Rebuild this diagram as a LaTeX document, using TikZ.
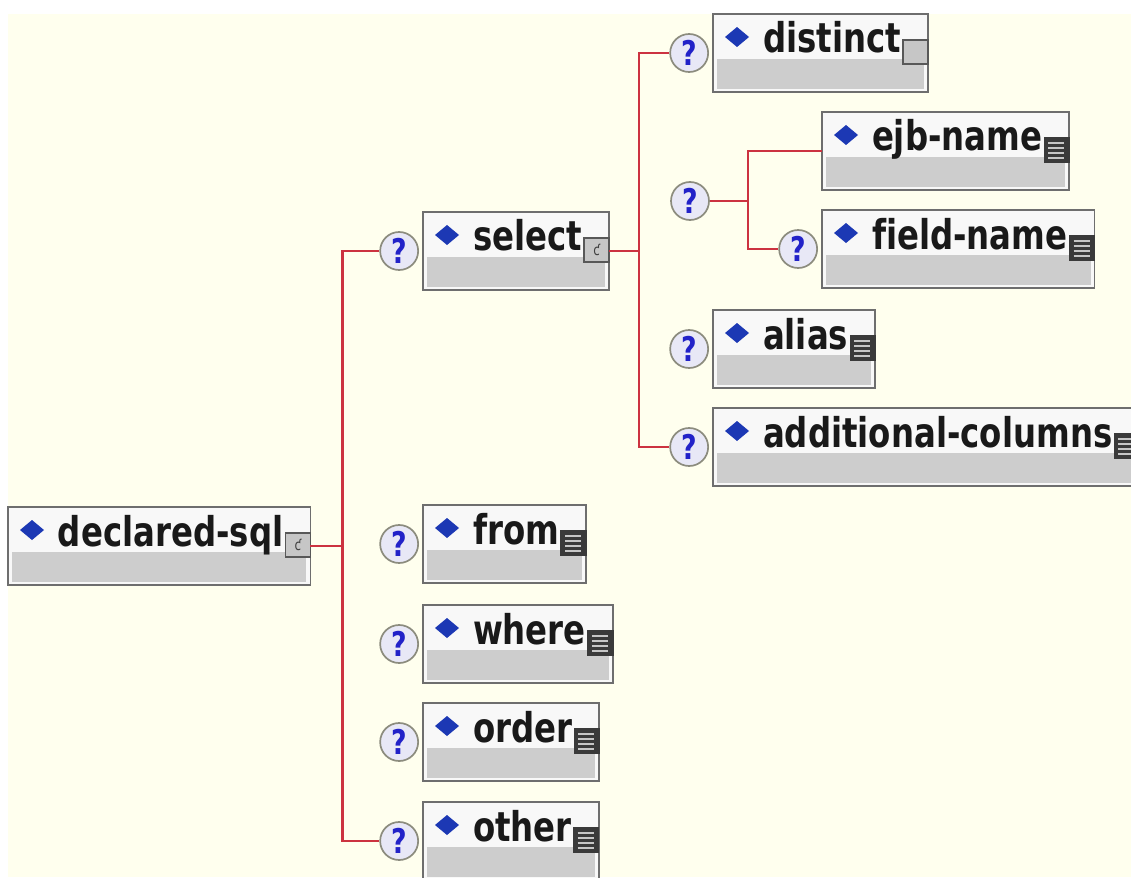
\documentclass[tikz,border=0pt]{standalone}
\usepackage{fontspec}
\newfontfamily\elemfont[FakeStretch=0.79, Ligatures=NoCommon]{DejaVu Sans}
\usetikzlibrary{positioning}
\definecolor{bgcream}{HTML}{FFFFEE}
\definecolor{boxframe}{HTML}{6E6E6E}
\definecolor{boxwhite}{HTML}{F8F8F8}
\definecolor{cellgray}{HTML}{CDCDCD}
\definecolor{diablue}{HTML}{1C38B4}
\definecolor{linkred}{HTML}{CC3340}
\definecolor{qblue}{HTML}{2222C8}
\definecolor{qfill}{HTML}{E8E8F6}
\definecolor{qframe}{HTML}{8C8C7E}
\definecolor{icondark}{HTML}{3A3A3A}
\definecolor{iconlight}{HTML}{C6C6C6}

\begin{document}
\begin{tikzpicture}[
        x=1pt, y=-1pt,
        node distance = 4pt and 4pt,
        elem/.style = {draw=boxframe, line width=1.8pt, fill=boxwhite, anchor=north west,
            outer sep=0pt, inner xsep=0pt, inner ysep=0pt, text height=39pt, text depth=39pt,
            font=\elemfont\bfseries\fontsize{41pt}{41pt}\selectfont, text=black!90,
            execute at begin node=\hspace*{50pt}, execute at end node=\hspace*{27pt},
            path picture={
                \fill[cellgray] ([shift={(4pt,3pt)}]path picture bounding box.south west)
                    rectangle ([shift={(-4pt,33pt)}]path picture bounding box.south east);
                \fill[diablue] ([shift={(12pt,-23pt)}]path picture bounding box.north west)
                    -- ++(12pt,10pt) -- ++(12pt,-10pt) -- ++(-12pt,-10pt) -- cycle;
            }},
        icon/.style = {anchor=north east, outer sep=0pt, inner sep=0pt,
            minimum width=25pt, minimum height=24pt, line width=1.3pt},
        cplx/.style  = {icon, draw=boxframe!80!black, fill=iconlight,
            font=\elemfont\fontsize{15pt}{15pt}\selectfont, text=black!75},
        empty/.style = {icon, draw=boxframe!80!black, fill=iconlight},
        simple/.style = {icon, draw=icondark, fill=icondark,
            path picture={
                \foreach \yy in {5,10,15,20}
                    \draw[iconlight, line width=1.4pt] ([shift={(4pt,-\yy pt)}]path picture bounding box.north west) -- ++(16pt,0pt);
            }},
        opt/.style  = {circle, draw=qframe, line width=1.7pt, fill=qfill, minimum size=38pt, inner sep=0pt,
            font=\elemfont\bfseries\fontsize{34pt}{34pt}\selectfont, text=qblue},
        link/.style = {draw=linkred, line width=2.2pt},
    ]
        \useasboundingbox (0,0) rectangle (1131,877);
        \clip (0,0) rectangle (1131,877);
        \fill[white] (0,0) rectangle (1131,877);
        \fill[bgcream] (8,14) rectangle (1131,877);

        % root
        \node[elem] (decl) at (8,507) {declared-sql};
        \node[cplx] (decl-i) at ([yshift=-26pt]decl.north east) {ƈ};

        % first level
        \node[elem] (sel) at (423,212) {select};
        \node[cplx] (sel-i) at ([yshift=-26pt]sel.north east) {ƈ};
        \node[opt, left=of sel] (qsel) {?};
        \node[elem] (from) at (423,505) {from};
        \node[simple] (from-i) at ([yshift=-26pt]from.north east) {};
        \node[opt, left=of from] (qfrom) {?};
        \node[elem] (where) at (423,605) {where};
        \node[simple] (where-i) at ([yshift=-26pt]where.north east) {};
        \node[opt, left=of where] (qwhere) {?};
        \node[elem] (order) at (423,703) {order};
        \node[simple] (order-i) at ([yshift=-26pt]order.north east) {};
        \node[opt, left=of order] (qorder) {?};
        \node[elem] (other) at (423,802) {other};
        \node[simple] (other-i) at ([yshift=-26pt]other.north east) {};
        \node[opt, left=of other] (qother) {?};

        % second level
        \node[elem] (dist) at (713,14) {distinct};
        \node[empty] (dist-i) at ([yshift=-26pt]dist.north east) {};
        \node[opt, left=of dist] (qdist) {?};
        \node[opt] (qgrp) at (690,201) {?};
        \node[elem] (ejb) at (822,112) {ejb-name};
        \node[simple] (ejb-i) at ([yshift=-26pt]ejb.north east) {};
        \node[elem] (fld) at (822,210) {field-name};
        \node[simple] (fld-i) at ([yshift=-26pt]fld.north east) {};
        \node[opt, left=of fld] (qfld) {?};
        \node[elem] (alias) at (713,310) {alias};
        \node[simple] (alias-i) at ([yshift=-26pt]alias.north east) {};
        \node[opt, left=of alias] (qalias) {?};
        \node[elem] (addcol) at (713,408) {additional-columns};
        \node[simple] (addcol-i) at ([yshift=-26pt]addcol.north east) {};
        \node[opt, left=of addcol] (qaddcol) {?};

        % connectors
        \coordinate[right=32pt of decl] (j1);
        \coordinate[right=30pt of sel] (j2);
        \coordinate[right=38pt of qgrp] (j3);
        \draw[link] (decl) -- (j1);
        \draw[link] (qsel) -| (j1) |- (qother);
        \draw[link] (sel) -- (j2);
        \draw[link] (qdist) -| (j2) |- (qaddcol);
        \draw[link] (qgrp) -- (j3);
        \draw[link] (ejb) -| (j3) |- (qfld);
    \end{tikzpicture}
\end{document}
